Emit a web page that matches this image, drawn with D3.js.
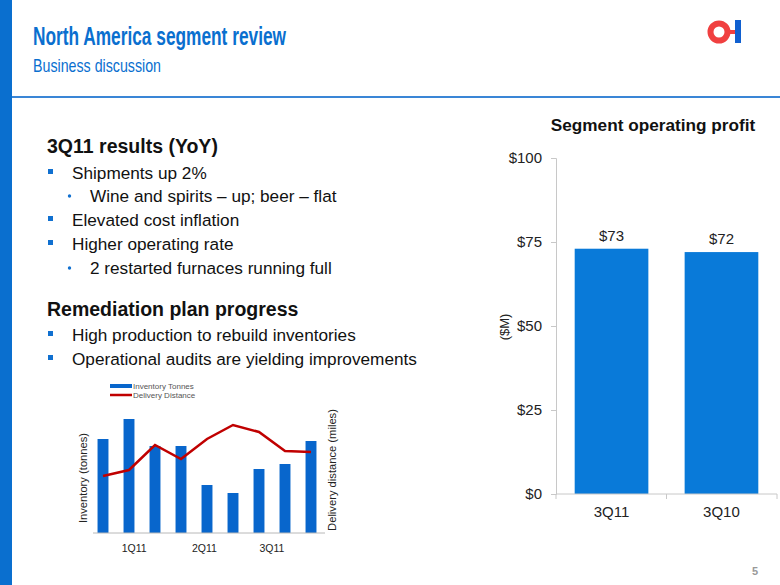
<!DOCTYPE html>
<html><head><meta charset="utf-8">
<script src="https://cdn.jsdelivr.net/npm/d3@7"></script>
<style>body{margin:0;background:#fff}svg{display:block;font-family:"Liberation Sans",Arial,sans-serif}</style>
</head><body>
<script>
// ---- data ----
const profitCategories = ["3Q11", "3Q10"];
const profitValues = [73, 72];
const profitTicks = [0, 25, 50, 75, 100];

const inventoryValues = [94, 114, 87, 87, 48, 40, 64, 69, 92];
const distanceValues = [57, 63, 88, 74, 94, 108, 101, 82, 81];
const quarterLabels = ["1Q11", "2Q11", "3Q11"];
const quarterPositions = [1.2, 3.9, 6.5];

const bulletLines = [
  {text: "3Q11 results (YoY)", level: 0},
  {text: "Shipments up 2%", level: 1},
  {text: "Wine and spirits \u2013 up; beer \u2013 flat", level: 2},
  {text: "Elevated cost inflation", level: 1},
  {text: "Higher operating rate", level: 1},
  {text: "2 restarted furnaces running full", level: 2},
  {text: "Remediation plan progress", level: 0},
  {text: "High production to rebuild inventories", level: 1},
  {text: "Operational audits are yielding improvements", level: 1}
];

const W = 780, H = 585;
const svg = d3.select("body").append("svg").attr("width", W).attr("height", H);
const BLUE = "#0a6fcf";

// frame
svg.append("rect").attr("x", 0).attr("y", 0).attr("width", 12).attr("height", H).attr("fill", "#0a6fcf");
svg.append("rect").attr("x", 12).attr("y", 96).attr("width", W - 12).attr("height", 2).attr("fill", "#3a86d6");
svg.append("text").attr("x", 33).attr("y", 45).attr("font-size", 25).attr("font-weight", "bold")
  .attr("fill", BLUE).attr("textLength", 253).attr("lengthAdjust", "spacingAndGlyphs").text("North America segment review");
svg.append("text").attr("x", 33).attr("y", 72).attr("font-size", 19)
  .attr("fill", BLUE).attr("textLength", 128).attr("lengthAdjust", "spacingAndGlyphs").text("Business discussion");

// logo
const logo = svg.append("g");
logo.append("circle").attr("cx", 719).attr("cy", 32).attr("r", 8.5).attr("fill", "none").attr("stroke", "#f04040").attr("stroke-width", 6);
logo.append("rect").attr("x", 727).attr("y", 30).attr("width", 8).attr("height", 4).attr("fill", "#f04040");
logo.append("rect").attr("x", 735).attr("y", 20).attr("width", 6).attr("height", 23).attr("fill", "#1060d0");

// page number
svg.append("text").attr("x", 752).attr("y", 575).attr("font-size", 11).attr("font-weight", "bold").attr("fill", "#999").text("5");

// ---- bullet text ----
const lineY = [153, 179, 202, 226, 250, 274, 316, 341, 365];
bulletLines.forEach((d, i) => {
  const y = lineY[i];
  if (d.level === 0) {
    svg.append("text").attr("x", 47).attr("y", y).attr("font-size", 19.5).attr("font-weight", "bold").attr("fill", "#111").text(d.text);
  } else if (d.level === 1) {
    svg.append("rect").attr("x", 48).attr("y", y - 10).attr("width", 5).attr("height", 5).attr("fill", "#1070d0");
    svg.append("text").attr("x", 72).attr("y", y).attr("font-size", 17.2).attr("fill", "#111").text(d.text);
  } else {
    svg.append("circle").attr("cx", 69.5).attr("cy", y - 6).attr("r", 1.7).attr("fill", "#1070d0");
    svg.append("text").attr("x", 90).attr("y", y).attr("font-size", 17.2).attr("fill", "#111").text(d.text);
  }
});

// ---- main bar chart ----
const x = d3.scaleBand().domain(profitCategories).range([556, 777]).paddingInner(0.33).paddingOuter(0.17);
const y = d3.scaleLinear().domain([0, 100]).range([494, 158]);
const main = svg.append("g");
main.append("text").attr("x", 653).attr("y", 131).attr("text-anchor", "middle").attr("font-size", 17.2).attr("font-weight", "bold").attr("fill", "#111").text("Segment operating profit");

const yAxis = main.append("g").attr("transform", "translate(556,0)")
  .call(d3.axisLeft(y).tickValues(profitTicks).tickSize(5).tickPadding(9).tickFormat(d => "$" + d));
yAxis.selectAll("path,line").attr("stroke", "#c8c8c8");
yAxis.selectAll("text").attr("font-size", 15).attr("fill", "#222").attr("font-family", "Liberation Sans, Arial, sans-serif");

main.selectAll("rect.bar").data(profitValues).enter().append("rect").attr("class", "bar")
  .attr("x", (d, i) => x(profitCategories[i])).attr("width", x.bandwidth())
  .attr("y", d => y(d)).attr("height", d => y(0) - y(d)).attr("fill", "#097ad9");
main.selectAll("text.val").data(profitValues).enter().append("text").attr("class", "val")
  .attr("x", (d, i) => x(profitCategories[i]) + x.bandwidth() / 2).attr("y", d => y(d) - 8)
  .attr("text-anchor", "middle").attr("font-size", 15).attr("fill", "#222").text(d => "$" + d);

const xAxisG = main.append("g").attr("transform", "translate(0,494)");
xAxisG.append("line").attr("x1", 556).attr("x2", 777).attr("stroke", "#c8c8c8");
const bandTicks = [556].concat(profitCategories.map(c => x(c) + x.bandwidth() + x.step() * x.paddingInner() / 2));
bandTicks[bandTicks.length - 1] = 777;
xAxisG.selectAll("line.t").data(bandTicks).enter().append("line").attr("class", "t")
  .attr("x1", d => d).attr("x2", d => d).attr("y1", 0).attr("y2", 5).attr("stroke", "#c8c8c8");
xAxisG.selectAll("text").data(profitCategories).enter().append("text")
  .attr("x", d => x(d) + x.bandwidth() / 2).attr("y", 23).attr("text-anchor", "middle")
  .attr("font-size", 15).attr("fill", "#222").text(d => d);

main.append("text").attr("transform", "translate(509,327) rotate(-90)").attr("text-anchor", "middle")
  .attr("font-size", 13).attr("fill", "#222").text("($M)");

// ---- small inventory chart ----
const sx = d3.scaleBand().domain(d3.range(inventoryValues.length)).range([90, 324]).paddingInner(0.58).paddingOuter(0.29);
const sy = d3.scaleLinear().domain([0, 130]).range([533, 403]);
const idx = d3.scaleLinear().domain([0, inventoryValues.length - 1]).range([sx(0) + sx.bandwidth() / 2, sx(inventoryValues.length - 1) + sx.bandwidth() / 2]);
const small = svg.append("g");
small.selectAll("rect").data(inventoryValues).enter().append("rect")
  .attr("x", (d, i) => sx(i)).attr("width", sx.bandwidth())
  .attr("y", d => sy(d)).attr("height", d => sy(0) - sy(d)).attr("fill", "#0866cc");
small.append("line").attr("x1", 93).attr("x2", 325).attr("y1", 533).attr("y2", 533).attr("stroke", "#b8b8b8").attr("stroke-width", 1);
small.append("path").datum(distanceValues)
  .attr("d", d3.line().x((d, i) => sx(i) + sx.bandwidth() / 2).y(d => sy(d)))
  .attr("fill", "none").attr("stroke", "#c00000").attr("stroke-width", 2.5);
small.selectAll("text.q").data(quarterLabels).enter().append("text").attr("class", "q")
  .attr("x", (d, i) => idx(quarterPositions[i])).attr("y", 552).attr("text-anchor", "middle")
  .attr("font-size", 10.5).attr("fill", "#222").text(d => d);
small.append("text").attr("transform", "translate(87,478) rotate(-90)").attr("text-anchor", "middle")
  .attr("font-size", 11.2).attr("fill", "#222").text("Inventory (tonnes)");
small.append("text").attr("transform", "translate(336,470) rotate(-90)").attr("text-anchor", "middle")
  .attr("font-size", 11.2).attr("fill", "#222").text("Delivery distance  (miles)");
// legend
const legend = [{label: "Inventory Tonnes", color: "#0866cc", w: 4}, {label: "Delivery Distance", color: "#c00000", w: 2.5}];
legend.forEach((d, i) => {
  const ly = 386 + i * 9;
  small.append("line").attr("x1", 110).attr("x2", 132).attr("y1", ly).attr("y2", ly).attr("stroke", d.color).attr("stroke-width", d.w);
  small.append("text").attr("x", 133).attr("y", ly + 3).attr("font-size", 8).attr("fill", "#555").text(d.label);
});
</script>
</body></html>
